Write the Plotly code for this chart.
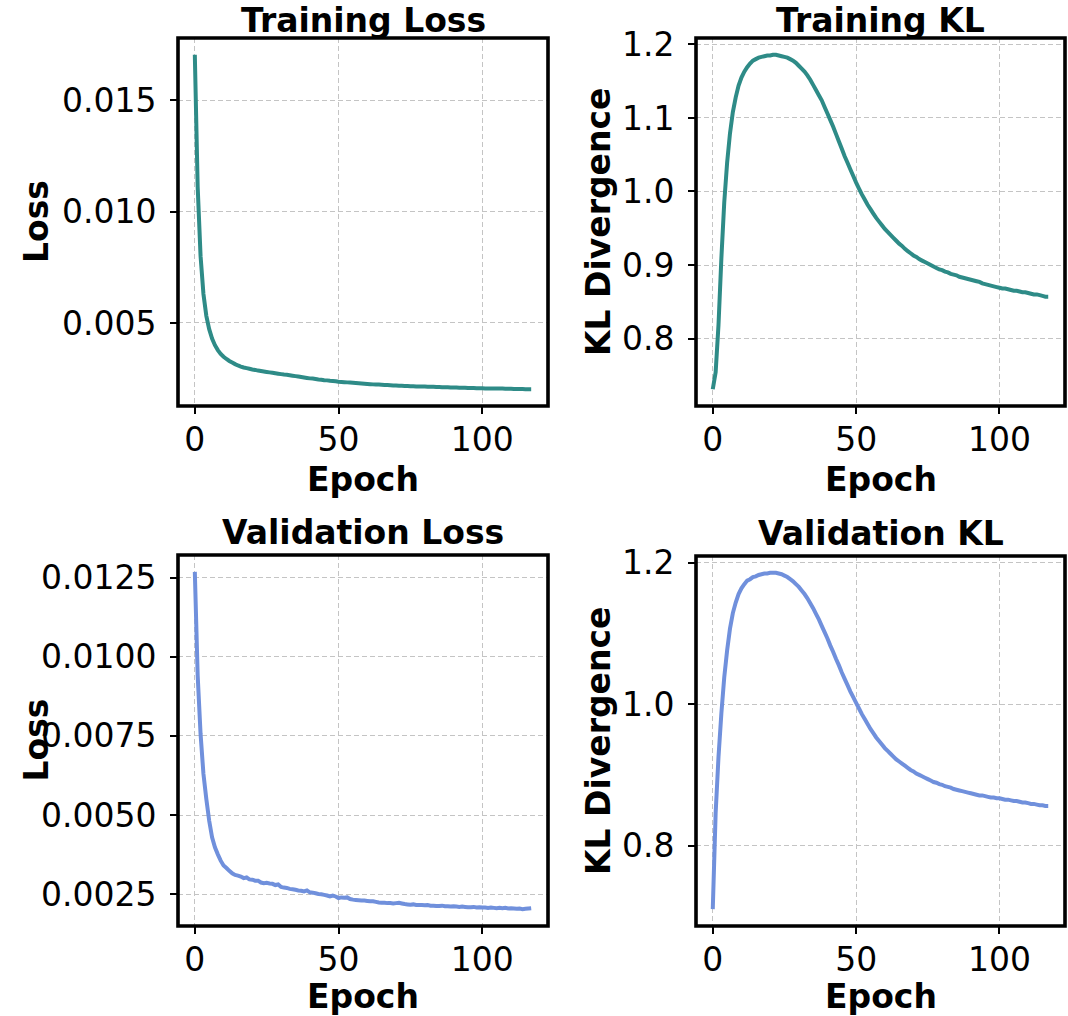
import plotly.graph_objects as go

epochs = list(range(118))

train_loss = [
    0.01705, 0.01110, 0.00800, 0.00630, 0.00532, 0.00472, 0.00430, 0.00400, 0.00378, 0.00361,
    0.00348, 0.00338, 0.00329, 0.00322, 0.00315, 0.00309, 0.00304, 0.00300, 0.00297, 0.00294,
    0.00291, 0.00289, 0.00286, 0.00284, 0.00282, 0.00280, 0.00278, 0.00276, 0.00274, 0.00272,
    0.00270, 0.00268, 0.00267, 0.00265, 0.00263, 0.00261, 0.00259, 0.00257, 0.00255, 0.00253,
    0.00251, 0.00250, 0.00248, 0.00246, 0.00245, 0.00243, 0.00242, 0.00240, 0.00239, 0.00238,
    0.00236, 0.00235, 0.00234, 0.00233, 0.00232, 0.00231, 0.00230, 0.00229, 0.00228, 0.00227,
    0.00226, 0.00225, 0.00224, 0.00223, 0.00223, 0.00222, 0.00221, 0.00221, 0.00220, 0.00219,
    0.00219, 0.00218, 0.00218, 0.00217, 0.00217, 0.00216, 0.00216, 0.00215, 0.00215, 0.00214,
    0.00214, 0.00213, 0.00213, 0.00213, 0.00212, 0.00212, 0.00211, 0.00211, 0.00211, 0.00210,
    0.00210, 0.00210, 0.00209, 0.00209, 0.00209, 0.00208, 0.00208, 0.00208, 0.00207, 0.00207,
    0.00207, 0.00206, 0.00206, 0.00206, 0.00205, 0.00205, 0.00205, 0.00205, 0.00204, 0.00204,
    0.00204, 0.00203, 0.00203, 0.00203, 0.00203, 0.00202, 0.00202, 0.00202,
]

val_loss = [
    0.01268, 0.00940, 0.00756, 0.00630, 0.00551, 0.00482, 0.00430, 0.00398, 0.00376, 0.00356,
    0.00341, 0.00333, 0.00324, 0.00316, 0.00311, 0.00309, 0.00306, 0.00301, 0.00303, 0.00297,
    0.00296, 0.00293, 0.00293, 0.00287, 0.00285, 0.00286, 0.00284, 0.00283, 0.00279, 0.00281,
    0.00273, 0.00271, 0.00270, 0.00267, 0.00266, 0.00264, 0.00262, 0.00261, 0.00259, 0.00262,
    0.00256, 0.00255, 0.00253, 0.00251, 0.00250, 0.00248, 0.00246, 0.00243, 0.00246, 0.00243,
    0.00238, 0.00240, 0.00239, 0.00240, 0.00235, 0.00233, 0.00232, 0.00231, 0.00230, 0.00230,
    0.00229, 0.00228, 0.00228, 0.00226, 0.00224, 0.00223, 0.00223, 0.00222, 0.00222, 0.00221,
    0.00222, 0.00223, 0.00221, 0.00219, 0.00218, 0.00217, 0.00218, 0.00216, 0.00216, 0.00216,
    0.00215, 0.00216, 0.00214, 0.00214, 0.00213, 0.00213, 0.00214, 0.00212, 0.00212, 0.00211,
    0.00212, 0.00211, 0.00210, 0.00211, 0.00210, 0.00209, 0.00209, 0.00210, 0.00208, 0.00209,
    0.00208, 0.00208, 0.00207, 0.00208, 0.00207, 0.00206, 0.00207, 0.00206, 0.00207, 0.00205,
    0.00206, 0.00205, 0.00204, 0.00205, 0.00203, 0.00204, 0.00205, 0.00206,
]

train_kl = [
    0.731, 0.754, 0.819, 0.909, 0.985, 1.039, 1.079, 1.108, 1.128, 1.144,
    1.155, 1.163, 1.169, 1.174, 1.178, 1.180, 1.182, 1.183, 1.184, 1.185,
    1.185, 1.186, 1.186, 1.185, 1.184, 1.183, 1.182, 1.180, 1.178, 1.175,
    1.171, 1.167, 1.163, 1.158, 1.152, 1.145, 1.138, 1.131, 1.124, 1.115,
    1.106, 1.097, 1.088, 1.078, 1.068, 1.058, 1.048, 1.039, 1.030, 1.021,
    1.012, 1.004, 0.996, 0.989, 0.982, 0.976, 0.970, 0.964, 0.959, 0.954,
    0.949, 0.945, 0.941, 0.937, 0.933, 0.929, 0.926, 0.922, 0.919, 0.916,
    0.913, 0.911, 0.908, 0.906, 0.904, 0.902, 0.900, 0.898, 0.896, 0.894,
    0.893, 0.891, 0.890, 0.888, 0.887, 0.886, 0.884, 0.883, 0.882, 0.881,
    0.880, 0.879, 0.878, 0.877, 0.875, 0.874, 0.873, 0.872, 0.871, 0.870,
    0.869, 0.868, 0.868, 0.867, 0.866, 0.865, 0.865, 0.864, 0.863, 0.863,
    0.862, 0.861, 0.860, 0.860, 0.859, 0.858, 0.857, 0.857,
]

val_kl = [
    0.710, 0.846, 0.926, 0.987, 1.038, 1.076, 1.107, 1.129, 1.144, 1.156,
    1.164, 1.170, 1.175, 1.177, 1.180, 1.181, 1.183, 1.184, 1.185, 1.185,
    1.186, 1.186, 1.186, 1.185, 1.184, 1.182, 1.180, 1.177, 1.174, 1.170,
    1.166, 1.161, 1.156, 1.150, 1.143, 1.136, 1.128, 1.120, 1.111, 1.102,
    1.093, 1.083, 1.074, 1.064, 1.055, 1.045, 1.036, 1.027, 1.018, 1.010,
    1.002, 0.994, 0.986, 0.979, 0.972, 0.965, 0.959, 0.953, 0.948, 0.943,
    0.938, 0.934, 0.930, 0.926, 0.922, 0.919, 0.916, 0.913, 0.910, 0.907,
    0.905, 0.902, 0.900, 0.898, 0.896, 0.894, 0.892, 0.890, 0.889, 0.887,
    0.886, 0.884, 0.883, 0.882, 0.880, 0.879, 0.878, 0.877, 0.876, 0.875,
    0.874, 0.873, 0.872, 0.871, 0.871, 0.870, 0.869, 0.868, 0.868, 0.867,
    0.867, 0.866, 0.865, 0.865, 0.864, 0.863, 0.863, 0.862, 0.861, 0.861,
    0.860, 0.859, 0.859, 0.858, 0.857, 0.857, 0.856, 0.856,
]

titles = ["Training Loss", "Training KL", "Validation Loss", "Validation KL"]
ylabels = ["Loss", "KL Divergence", "Loss", "KL Divergence"]
xlabel = "Epoch"
x_ticks = [0, 50, 100]
y_ticks = [
    [0.005, 0.010, 0.015],
    [0.8, 0.9, 1.0, 1.1, 1.2],
    [0.0025, 0.0050, 0.0075, 0.0100, 0.0125],
    [0.8, 1.0, 1.2],
]
y_fmt = [".3f", ".1f", ".4f", ".1f"]

TEAL = "#2e8b87"
BLUE = "#7090dc"
colors = [TEAL, TEAL, BLUE, BLUE]
series = [train_loss, train_kl, val_loss, val_kl]

W, H = 1068, 1016
# axes boxes in pixels (left, right, top, bottom)
boxes = [
    (178, 548, 38, 406),
    (696, 1065, 38, 406),
    (178, 548, 555, 926),
    (696, 1065, 556, 926),
]
ylab_x = [36, 598, 36, 598]
xlab_off = [73, 73, 70, 70]
title_off = [38, 38, 43, 43]

FONT = "DejaVu Sans"
fig = go.Figure()
annotations = []
shapes = []

for i in range(4):
    l, r, t, b = boxes[i]
    sfx = "" if i == 0 else str(i + 1)
    ys = series[i]
    fig.add_trace(go.Scatter(
        x=epochs, y=ys, mode="lines",
        line=dict(color=colors[i], width=4, simplify=False),
        xaxis="x" + sfx, yaxis="y" + sfx, showlegend=False,
    ))
    xr = [epochs[0] - 0.05 * (epochs[-1] - epochs[0]), epochs[-1] + 0.05 * (epochs[-1] - epochs[0])]
    span = max(ys) - min(ys)
    yr = [min(ys) - 0.05 * span, max(ys) + 0.05 * span]
    common = dict(
        showline=False, zeroline=False, showgrid=True, automargin=False,
        gridcolor="#c4c4c4", gridwidth=1.3, griddash="5px,3px",
        ticks="outside", ticklen=7, tickwidth=1.6, tickcolor="black",
        tickfont=dict(family=FONT, size=33, color="black"),
    )
    fig.update_layout(**{
        "xaxis" + sfx: dict(domain=[l / W, r / W], range=xr, anchor="y" + sfx,
                            tickvals=x_ticks, ticklabelstandoff=-3, **common),
        "yaxis" + sfx: dict(domain=[1 - b / H, 1 - t / H], range=yr, anchor="x" + sfx,
                            tickvals=y_ticks[i], tickformat=y_fmt[i],
                            ticklabelstandoff=7, **common),
    })
    shapes.append(dict(type="rect", xref="x" + sfx + " domain", yref="y" + sfx + " domain",
                       x0=0, x1=1, y0=0, y1=1, line=dict(color="black", width=3.6),
                       layer="above"))
    cx = (l + r) / 2
    annotations.append(dict(text="<b>" + titles[i] + "</b>", x=cx / W,
                            y=1 - (t - title_off[i]) / H,
                            xref="paper", yref="paper", showarrow=False,
                            xanchor="center", yanchor="top", borderpad=0,
                            font=dict(family=FONT, size=33, color="black")))
    annotations.append(dict(text="<b>" + xlabel + "</b>", x=cx / W, y=1 - (b + xlab_off[i]) / H,
                            xref="paper", yref="paper", showarrow=False,
                            xanchor="center", yanchor="middle", borderpad=0,
                            font=dict(family=FONT, size=33, color="black")))
    annotations.append(dict(text="<b>" + ylabels[i] + "</b>", x=ylab_x[i] / W,
                            y=1 - ((t + b) / 2) / H, xref="paper", yref="paper",
                            showarrow=False, textangle=-90,
                            xanchor="center", yanchor="middle", borderpad=0,
                            font=dict(family=FONT, size=33, color="black")))

fig.update_layout(
    template="none",
    width=W, height=H,
    margin=dict(l=0, r=0, t=0, b=0, pad=0),
    paper_bgcolor="white", plot_bgcolor="white",
    annotations=annotations, shapes=shapes,
    font=dict(family=FONT, color="black"),
)

fig.write_html("out.html", config={"displayModeBar": False},
               post_script="document.body.style.margin='0';")
